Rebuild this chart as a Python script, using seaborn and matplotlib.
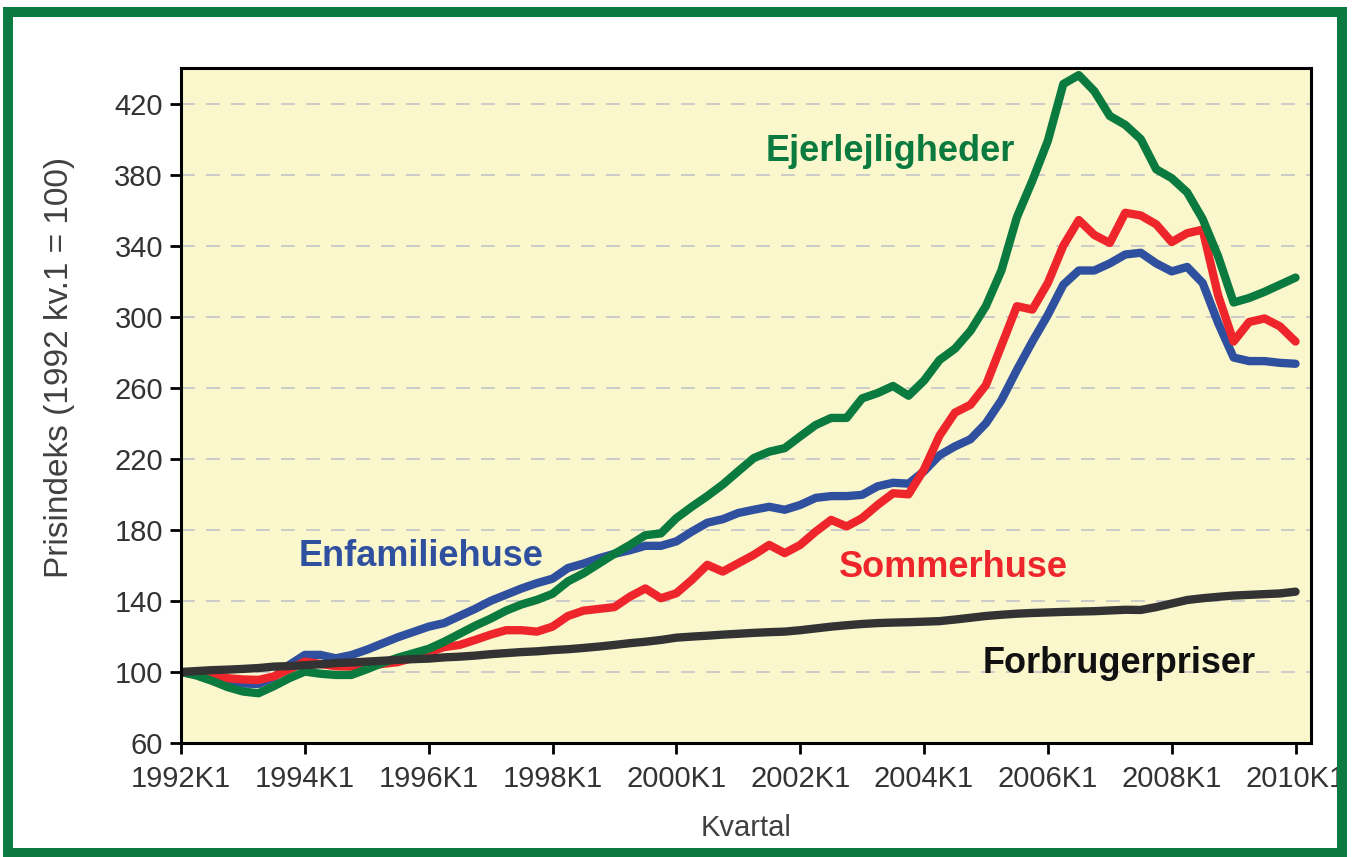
import matplotlib
matplotlib.use("Agg")
import matplotlib.pyplot as plt
from matplotlib.patches import Rectangle
import seaborn as sns
import pandas as pd

# ----------------------------
# Data (quarterly price indices, 1992 kv.1 = 100)
# ----------------------------
years = list(range(1992, 2011))
quarters = [f"{y}K{q}" for y in years for q in range(1, 5)][:73]   # 1992K1 .. 2010K1

enfamiliehuse = [
    100, 98.5, 96, 94.5, 93.5, 93.2, 97, 104,
    109.6, 109.6, 107.7, 109.5, 112.5, 116, 119.5, 122.5,
    125.5, 127.5, 131.5, 135.5, 140, 143.5, 147, 150,
    152.5, 158.5, 161, 164, 166.5, 168.5, 171, 171,
    173.5, 179, 184, 186, 189.5, 191.3, 193, 191.3,
    194, 198, 199, 199, 199.7, 204.5, 206.5, 206,
    213, 222, 227, 231, 240, 253, 270, 286,
    301, 318, 326, 326, 330, 335, 336, 330,
    325.5, 328, 319, 296.5, 277, 275, 275, 274,
    273.5,
]

sommerhuse = [
    100, 98.5, 97.4, 96.5, 95.8, 95.5, 97.5, 101.5,
    105.8, 104.5, 103.2, 103, 103.5, 104.5, 105.5, 108,
    111, 114, 115.2, 118, 121, 123.5, 123.5, 122.7,
    125.5, 131.5, 134.5, 135.5, 136.5, 142.4, 147, 141.5,
    144.3, 151.8, 160.3, 156.5, 161.2, 165.9, 171.5, 166.9,
    171.5, 179, 185.6, 181.9, 186.6, 194, 200.6, 200,
    214, 233, 246, 250.4, 261.5, 283.7, 305.9, 304,
    319, 340, 354.4, 346, 341.5, 358.5, 357, 352,
    342, 347, 349, 312, 286, 297, 299, 294.5,
    286,
]

ejerlejligheder = [
    100, 98, 95, 91.5, 89, 88, 92, 96.5,
    100.2, 99, 98.3, 98.3, 101.5, 105, 108, 110.5,
    113, 117, 121.5, 126, 130, 134.5, 138, 140.6,
    144, 151, 155.5, 161, 166.5, 171.5, 177, 178,
    186.6, 193, 199, 205.5, 213, 220.4, 224, 226,
    232.6, 239, 243, 243, 254, 257, 261, 255.5,
    264, 275.6, 282, 292, 306, 326, 356, 376.6,
    399, 431, 436, 427, 413, 408, 400, 383,
    378, 370, 355, 334, 308, 310.5, 314, 318,
    322,
]

forbrugerpriser = [
    100, 100.5, 101, 101.3, 101.7, 102.2, 103, 103.3,
    103.8, 104.3, 105, 105.3, 105.8, 106.3, 106.8, 107.2,
    107.5, 108.2, 108.6, 109.2, 110, 110.6, 111.2, 111.6,
    112.3, 112.8, 113.5, 114.3, 115.2, 116.2, 117, 118,
    119.3, 119.9, 120.4, 121, 121.5, 122, 122.4, 122.7,
    123.5, 124.5, 125.5, 126.3, 127, 127.5, 127.8, 128,
    128.3, 128.6, 129.5, 130.5, 131.5, 132.2, 132.8, 133.2,
    133.5, 133.8, 134, 134.2, 134.6, 135, 134.9, 136.5,
    138.5, 140.5, 141.5, 142.3, 143, 143.4, 143.8, 144.2,
    145.2,
]

series_names = ["Enfamiliehuse", "Sommerhuse", "Ejerlejligheder", "Forbrugerpriser"]
series_values = [enfamiliehuse, sommerhuse, ejerlejligheder, forbrugerpriser]
palette = {
    "Enfamiliehuse":   "#2F4F9F",
    "Sommerhuse":      "#EE262C",
    "Ejerlejligheder": "#0B7A3E",
    "Forbrugerpriser": "#333333",
}
text_colors = {
    "Enfamiliehuse":   "#2F4F9F",
    "Sommerhuse":      "#EE262C",
    "Ejerlejligheder": "#0B7A3E",
    "Forbrugerpriser": "#111111",
}

# label positions (quarter index, index value)
label_pos = {
    "Ejerlejligheder": (45.8, 393),
    "Enfamiliehuse":   (15.5, 165),
    "Sommerhuse":      (49.9, 159),
    "Forbrugerpriser": (60.6, 105),
}

y_ticks = list(range(60, 421, 40))
x_tick_idx = list(range(0, 73, 8))

df = pd.concat(
    [pd.DataFrame({"t": range(len(v)), "value": v, "serie": name})
     for name, v in zip(series_names, series_values)],
    ignore_index=True,
)

# ----------------------------
# Style
# ----------------------------
sns.set_theme(style="ticks")
plt.rcParams["font.family"] = ["Liberation Sans", "DejaVu Sans"]
plt.rcParams["lines.scale_dashes"] = False

fig = plt.figure(figsize=(13.6, 8.57), dpi=100)
fig.patch.set_facecolor("white")
ax = fig.add_axes([181 / 1360, 1 - 743 / 857, (1311 - 181) / 1360, (743 - 68) / 857])
ax.set_facecolor("#FAF7CD")

sns.lineplot(
    data=df, x="t", y="value", hue="serie", hue_order=series_names,
    palette=palette, linewidth=6, legend=False, ax=ax,
    solid_joinstyle="round", solid_capstyle="round",
)

for name, (tx, ty) in label_pos.items():
    ax.text(tx, ty, name, color=text_colors[name],
            fontsize=26, fontweight="bold", ha="center", va="center")

ax.set_xlim(0, 73)
ax.set_ylim(60, 440)
ax.set_yticks(y_ticks)
ax.set_xticks(x_tick_idx)
ax.set_xticklabels([quarters[i] for i in x_tick_idx])

ax.grid(axis="y", color="#C8C8C8", linewidth=1.3, linestyle=(0, (10, 8)))
ax.set_axisbelow(True)

for side in ["left", "right", "top", "bottom"]:
    ax.spines[side].set_visible(True)
    ax.spines[side].set_color("black")
    ax.spines[side].set_linewidth(2.2)

ax.tick_params(axis="both", direction="out", length=8, width=2, color="black",
               labelsize=21, labelcolor="#333333")
ax.tick_params(axis="y", pad=5)
ax.tick_params(axis="x", pad=8)

ax.set_ylabel("Prisindeks (1992 kv.1 = 100)", fontsize=24, color="#404040")
ax.yaxis.set_label_coords(-0.094, 0.556)
ax.set_xlabel("Kvartal", fontsize=21, color="#404040", labelpad=15)

# green frame round the whole figure
fig.add_artist(Rectangle((8 / 1360, 1 - 853 / 857), (1342 - 8) / 1360, (853 - 12) / 857,
                         transform=fig.transFigure, fill=False,
                         edgecolor="#0B7A42", linewidth=7.2))

fig.savefig("out.png", dpi=100)
